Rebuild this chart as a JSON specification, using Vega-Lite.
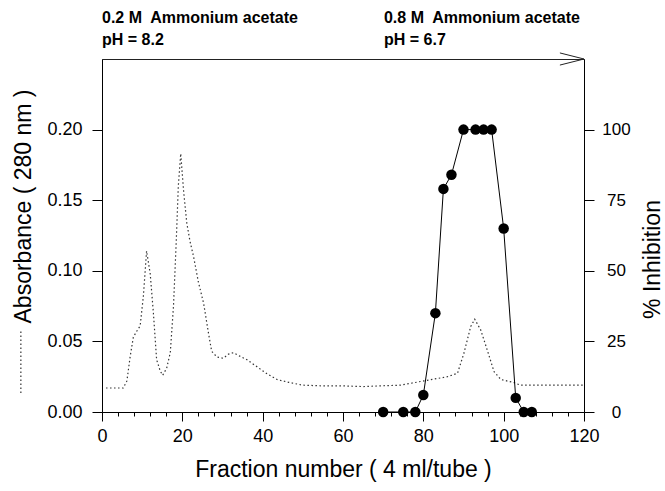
{
  "$schema": "https://vega.github.io/schema/vega-lite/v6.json",
  "autosize": "none",
  "width": 482,
  "height": 353,
  "padding": {"left": 102, "top": 59, "right": 81, "bottom": 79},
  "background": "white",
  "config": {
    "font": "Liberation Sans",
    "view": {"stroke": "#222", "strokeWidth": 1},
    "axis": {
      "grid": false,
      "domainColor": "#000",
      "tickColor": "#000",
      "labelColor": "#000",
      "titleColor": "#000",
      "labelFont": "Liberation Sans",
      "titleFont": "Liberation Sans",
      "labelFontSize": 18,
      "titleFontSize": 23,
      "titleFontWeight": "normal",
      "labelFlush": false,
      "labelOverlap": false
    }
  },
  "datasets": {
    "absorbance": [
      {"fraction": 1, "abs": 0.017}, {"fraction": 3, "abs": 0.017}, {"fraction": 5.3, "abs": 0.017},
      {"fraction": 6.2, "abs": 0.022}, {"fraction": 7, "abs": 0.039}, {"fraction": 7.8, "abs": 0.053},
      {"fraction": 8.6, "abs": 0.057}, {"fraction": 9.5, "abs": 0.061}, {"fraction": 10.3, "abs": 0.082},
      {"fraction": 11.1, "abs": 0.114}, {"fraction": 12, "abs": 0.098}, {"fraction": 12.8, "abs": 0.07},
      {"fraction": 13.6, "abs": 0.037}, {"fraction": 14.5, "abs": 0.029}, {"fraction": 15.1, "abs": 0.026},
      {"fraction": 16.1, "abs": 0.031}, {"fraction": 17, "abs": 0.042}, {"fraction": 17.8, "abs": 0.075},
      {"fraction": 18.5, "abs": 0.122}, {"fraction": 19, "abs": 0.16}, {"fraction": 19.6, "abs": 0.183},
      {"fraction": 20.3, "abs": 0.157}, {"fraction": 21.1, "abs": 0.134}, {"fraction": 21.9, "abs": 0.121},
      {"fraction": 22.8, "abs": 0.11}, {"fraction": 24, "abs": 0.092}, {"fraction": 25.3, "abs": 0.077},
      {"fraction": 26.5, "abs": 0.056}, {"fraction": 27.3, "abs": 0.043}, {"fraction": 28.6, "abs": 0.039},
      {"fraction": 30.2, "abs": 0.038}, {"fraction": 31.5, "abs": 0.041}, {"fraction": 32.7, "abs": 0.042},
      {"fraction": 34, "abs": 0.04}, {"fraction": 36.1, "abs": 0.037}, {"fraction": 38.6, "abs": 0.032},
      {"fraction": 41.1, "abs": 0.027}, {"fraction": 43.6, "abs": 0.023}, {"fraction": 46.5, "abs": 0.021},
      {"fraction": 50, "abs": 0.019}, {"fraction": 55, "abs": 0.0185}, {"fraction": 60, "abs": 0.0185},
      {"fraction": 65, "abs": 0.018}, {"fraction": 69.3, "abs": 0.0185}, {"fraction": 74.3, "abs": 0.019},
      {"fraction": 80.1, "abs": 0.022}, {"fraction": 86, "abs": 0.025}, {"fraction": 88.5, "abs": 0.0274},
      {"fraction": 90.1, "abs": 0.0416}, {"fraction": 91.8, "abs": 0.0605}, {"fraction": 92.8, "abs": 0.0657},
      {"fraction": 94.3, "abs": 0.058}, {"fraction": 95.9, "abs": 0.044}, {"fraction": 97.6, "abs": 0.0286},
      {"fraction": 99.3, "abs": 0.023}, {"fraction": 102.6, "abs": 0.0208}, {"fraction": 104.2, "abs": 0.019},
      {"fraction": 110, "abs": 0.019}, {"fraction": 120, "abs": 0.019}
    ],
    "legendkey": [
      {"fraction": -20.2, "abs": 0.0135, "i": 1},
      {"fraction": -20.2, "abs": 0.058, "i": 2}
    ],
    "arrow": [
      {"fraction": 114, "abs": 0.2543, "i": 1},
      {"fraction": 120, "abs": 0.25, "i": 2},
      {"fraction": 114, "abs": 0.2457, "i": 3}
    ],
    "headers": [
      {"fraction": 0, "abs": 0.2755, "label": "0.2 M\u00a0 Ammonium acetate"},
      {"fraction": 0, "abs": 0.26, "label": "pH = 8.2"},
      {"fraction": 70.2, "abs": 0.2755, "label": "0.8 M\u00a0 Ammonium acetate"},
      {"fraction": 70.2, "abs": 0.26, "label": "pH = 6.7"}
    ],
    "inhibition": [
      {"fraction": 70, "inh": 0}, {"fraction": 75, "inh": 0}, {"fraction": 78, "inh": 0},
      {"fraction": 80, "inh": 6}, {"fraction": 83, "inh": 35}, {"fraction": 85, "inh": 79},
      {"fraction": 87, "inh": 84}, {"fraction": 90, "inh": 100}, {"fraction": 93, "inh": 100},
      {"fraction": 95, "inh": 100}, {"fraction": 97, "inh": 100}, {"fraction": 100, "inh": 65},
      {"fraction": 103, "inh": 5}, {"fraction": 105, "inh": 0}, {"fraction": 107, "inh": 0}
    ]
  },
  "encoding": {
    "x": {
      "field": "fraction",
      "type": "quantitative",
      "scale": {"domain": [0, 120], "nice": false, "zero": false},
      "axis": {
        "title": "Fraction number ( 4 ml/tube )",
        "values": [0, 4, 8, 12, 16, 20, 24, 28, 32, 36, 40, 44, 48, 52, 56, 60, 64, 68, 72, 76, 80, 84, 88, 92, 96, 100, 104, 108, 112, 116, 120],
        "labelExpr": "datum.value % 20 == 0 ? datum.label : ''",
        "tickSize": {"condition": {"test": "datum.value % 20 == 0", "value": 9}, "value": 4},
        "labelPadding": 6,
        "labelBaseline": "top",
        "titleBaseline": "alphabetic",
        "titleY": 64
      }
    }
  },
  "layer": [
    {
      "encoding": {
        "y": {
          "field": "abs",
          "type": "quantitative",
          "scale": {"domain": [0, 0.25], "nice": false},
          "axis": {
            "orient": "left",
            "title": "Absorbance ( 280 nm )",
            "values": [0, 0.05, 0.1, 0.15, 0.2],
            "format": ".2f",
            "tickSize": 10,
            "labelPadding": 10,
            "titleAngle": 270,
            "titleAlign": "center",
            "titleBaseline": "alphabetic",
            "titleX": -72,
            "titleY": 147
          }
        }
      },
      "layer": [
        {
          "data": {"name": "absorbance"},
          "mark": {"type": "line", "color": "#333", "strokeWidth": 1.2, "strokeDash": [1.5, 2.5]}
        },
        {
          "data": {"name": "legendkey"},
          "mark": {"type": "line", "color": "#333", "strokeWidth": 1.2, "strokeDash": [1.5, 2.5]},
          "encoding": {"order": {"field": "i"}}
        },
        {
          "data": {"name": "arrow"},
          "mark": {"type": "line", "color": "#222", "strokeWidth": 1},
          "encoding": {"order": {"field": "i"}}
        },
        {
          "data": {"name": "headers"},
          "mark": {"type": "text", "align": "left", "baseline": "alphabetic", "fontSize": 16, "fontWeight": "bold", "font": "Liberation Sans", "color": "#000"},
          "encoding": {"text": {"field": "label"}}
        }
      ]
    },
    {
      "data": {"name": "inhibition"},
      "encoding": {
        "y": {
          "field": "inh",
          "type": "quantitative",
          "scale": {"domain": [0, 125], "nice": false},
          "axis": {
            "orient": "right",
            "title": "% Inhibition",
            "values": [0, 25, 50, 75, 100],
            "tickSize": 10,
            "labelPadding": 22,
            "labelAlign": "center",
            "labelFontSize": 17,
            "titleAngle": 270,
            "titleAlign": "center",
            "titleBaseline": "alphabetic",
            "titleX": 75,
            "titleY": 200
          }
        }
      },
      "layer": [
        {"mark": {"type": "line", "color": "#000", "strokeWidth": 1}},
        {"mark": {"type": "point", "filled": true, "color": "#000", "opacity": 1, "size": 110}}
      ]
    }
  ],
  "resolve": {"scale": {"y": "independent"}}
}
